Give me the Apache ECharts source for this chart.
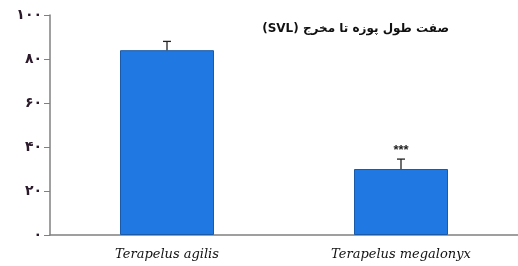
<!DOCTYPE html>
<html>
<head>
<meta charset="utf-8">
<script src="https://cdn.jsdelivr.net/npm/echarts@6/dist/echarts.min.js"></script>
<style>
  html, body { margin: 0; padding: 0; background: #fff; }
  #chart { width: 518px; height: 266px; }
</style>
</head>
<body>
<div id="chart"></div>
<script>
  // 数据
  var categories = ['Terapelus agilis', 'Terapelus megalonyx']
  var means = [84, 30]
  var errors = [4, 4.5]
  var marks = ['', '***']
  var yTickLabels = ['۰', '۲۰', '۴۰', '۶۰', '۸۰', '۱۰۰']
  var titleText = '(SVL) صفت طول پوزه تا مخرج'

  var chart = echarts.init(document.getElementById('chart'))

  var errData = []
  for (var i = 0; i < means.length; i++) {
    errData.push([i, means[i], errors[i], marks[i]])
  }

  chart.setOption({
    animation: false,
    title: {
      text: titleText,
      right: 64,
      top: 18,
      textStyle: {
        fontFamily: 'DejaVu Sans',
        fontSize: 12,
        fontWeight: 'bold',
        color: '#111'
      }
    },
    grid: {left: 50, right: 0, top: 15, bottom: 31},
    xAxis: {
      type: 'category',
      data: categories,
      axisLine: {lineStyle: {color: '#808080', width: 1.5}},
      axisTick: {show: false},
      axisLabel: {
        margin: 13,
        fontFamily: 'DejaVu Serif',
        fontStyle: 'italic',
        fontSize: 13,
        color: '#111'
      }
    },
    yAxis: {
      type: 'value',
      min: 0,
      max: 100,
      interval: 20,
      splitLine: {show: false},
      axisLine: {show: true, lineStyle: {color: '#808080', width: 1.5}},
      axisTick: {show: true, length: 6, lineStyle: {color: '#808080'}},
      axisLabel: {
        margin: 8,
        fontFamily: 'DejaVu Sans',
        fontSize: 14,
        fontWeight: 'bold',
        color: '#2a1a2a',
        formatter: function (v) {
          return yTickLabels[Math.round(v / 20)]
        }
      }
    },
    series: [
      {
        type: 'bar',
        data: means,
        barWidth: 94,
        itemStyle: {
          color: '#2079e3',
          borderColor: '#1a5aa6',
          borderWidth: 1
        }
      },
      {
        type: 'custom',
        data: errData,
        z: 5,
        renderItem: function (params, api) {
          var x = api.coord([api.value(0), api.value(1)])
          var top = api.coord([api.value(0), api.value(1) + api.value(2)])
          var cx = x[0]
          var half = 4
          var children = [
            {type: 'line', shape: {x1: cx, y1: x[1], x2: cx, y2: top[1]}, style: {stroke: '#222', lineWidth: 1.3}},
            {type: 'line', shape: {x1: cx - half, y1: top[1], x2: cx + half, y2: top[1]}, style: {stroke: '#222', lineWidth: 1.3}}
          ]
          var m = errData[params.dataIndex][3]
          if (m) {
            children.push({
              type: 'text',
              style: {
                text: m,
                x: cx,
                y: top[1] - 2,
                textAlign: 'center',
                textVerticalAlign: 'bottom',
                fontSize: 13,
                fontWeight: 'bold',
                fill: '#222'
              }
            })
          }
          return {type: 'group', children: children}
        }
      }
    ]
  })
</script>
</body>
</html>
